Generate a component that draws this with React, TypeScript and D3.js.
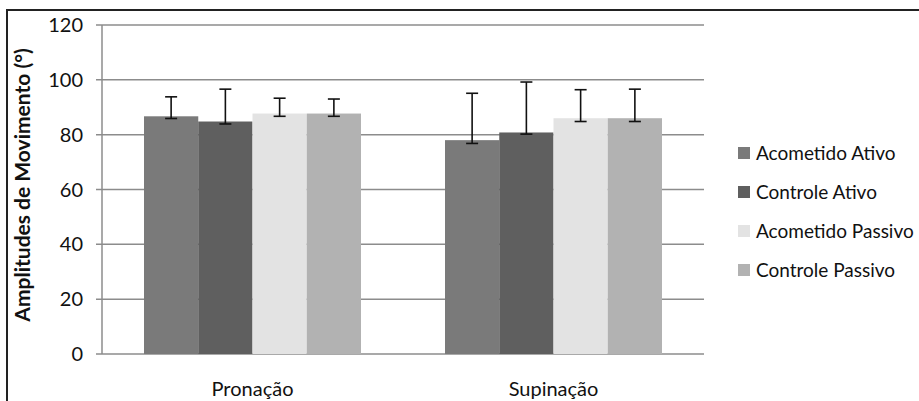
import React from "react";
import * as d3 from "d3";

const categories = ["Pronação", "Supinação"];
const seriesNames = ["Acometido Ativo", "Controle Ativo", "Acometido Passivo", "Controle Passivo"];
const seriesColors = ["#7a7a7a", "#5f5f5f", "#e3e3e3", "#b2b2b2"];
// values[series][category]
const values = [
  [86.7, 78.0],
  [84.8, 80.8],
  [87.7, 86.0],
  [87.7, 86.0],
];
const errUpper = [
  [93.8, 95.1],
  [96.6, 99.2],
  [93.3, 96.4],
  [93.0, 96.6],
];
const errLower = [
  [85.9, 76.8],
  [83.9, 80.2],
  [86.7, 84.8],
  [86.7, 84.8],
];
const yTicks = [0, 20, 40, 60, 80, 100, 120];
const yLabel = "Amplitudes de Movimento (°)";

const W = 919, H = 401;
const plot = { left: 102, right: 704, top: 25, bottom: 354 };
const font = "Lato, 'Open Sans', sans-serif";

export default function App() {
  const y = d3.scaleLinear().domain([0, 120]).range([plot.bottom, plot.top]);
  const x0 = d3.scaleBand().domain(categories).range([plot.left, plot.right]).paddingInner(0).paddingOuter(0);
  const groupW = 217;
  const x1 = d3.scaleBand().domain(seriesNames).range([0, groupW]).padding(0);
  const capHalf = 6;

  return (
    <svg width={W} height={H} style={{ position: "absolute", left: 0, top: 0, background: "#fff" }}>
      <rect x={0} y={0} width={W} height={H} fill="#fff" />
      {/* outer border */}
      <path d={`M7,${H + 5} L7,10 L${W + 5},10`} fill="none" stroke="#222" strokeWidth={2} />
      {/* gridlines */}
      {yTicks.map((t) => (
        <line key={t} x1={96} x2={plot.right} y1={y(t)} y2={y(t)} stroke="#8c8c8c" strokeWidth={1.5} />
      ))}
      <line x1={plot.left} x2={plot.left} y1={plot.top} y2={plot.bottom} stroke="#8c8c8c" strokeWidth={1.5} />
      {yTicks.map((t) => (
        <text key={t} x={83} y={y(t)} dy="0.35em" textAnchor="end" fontFamily={font} fontSize={20} fill="#111">
          {t}
        </text>
      ))}
      <text
        transform={`translate(30,185) rotate(-90)`}
        textAnchor="middle"
        fontFamily={font}
        fontWeight="bold"
        fontSize={21}
        fill="#111"
      >
        {yLabel}
      </text>
      {categories.map((c, ci) => {
        const gx = (x0(c) as number) + (x0.bandwidth() - groupW) / 2;
        return (
          <g key={c}>
            {seriesNames.map((s, si) => {
              const bx = gx + (x1(s) as number);
              const v = values[si][ci];
              return (
                <rect key={s} x={bx} y={y(v)} width={x1.bandwidth()} height={y(0) - y(v)} fill={seriesColors[si]} />
              );
            })}
            {seriesNames.map((s, si) => {
              const cx = gx + (x1(s) as number) + x1.bandwidth() / 2;
              const yu = y(errUpper[si][ci]);
              const yl = y(errLower[si][ci]);
              return (
                <g key={s} stroke="#111" strokeWidth={1.6}>
                  <line x1={cx} x2={cx} y1={yu} y2={yl} />
                  <line x1={cx - capHalf} x2={cx + capHalf} y1={yu} y2={yu} />
                  <line x1={cx - capHalf} x2={cx + capHalf} y1={yl} y2={yl} />
                </g>
              );
            })}
            <text
              x={(x0(c) as number) + x0.bandwidth() / 2}
              y={389}
              dy="0.35em"
              textAnchor="middle"
              fontFamily={font}
              fontSize={20}
              fill="#111"
            >
              {c}
            </text>
          </g>
        );
      })}
      {seriesNames.map((s, si) => {
        const ly = 153 + si * 39;
        return (
          <g key={s}>
            <rect x={738} y={ly - 6} width={12} height={12} fill={seriesColors[si]} />
            <text x={756} y={ly} dy="0.35em" fontFamily={font} fontSize={19} fill="#111">
              {s}
            </text>
          </g>
        );
      })}
    </svg>
  );
}
